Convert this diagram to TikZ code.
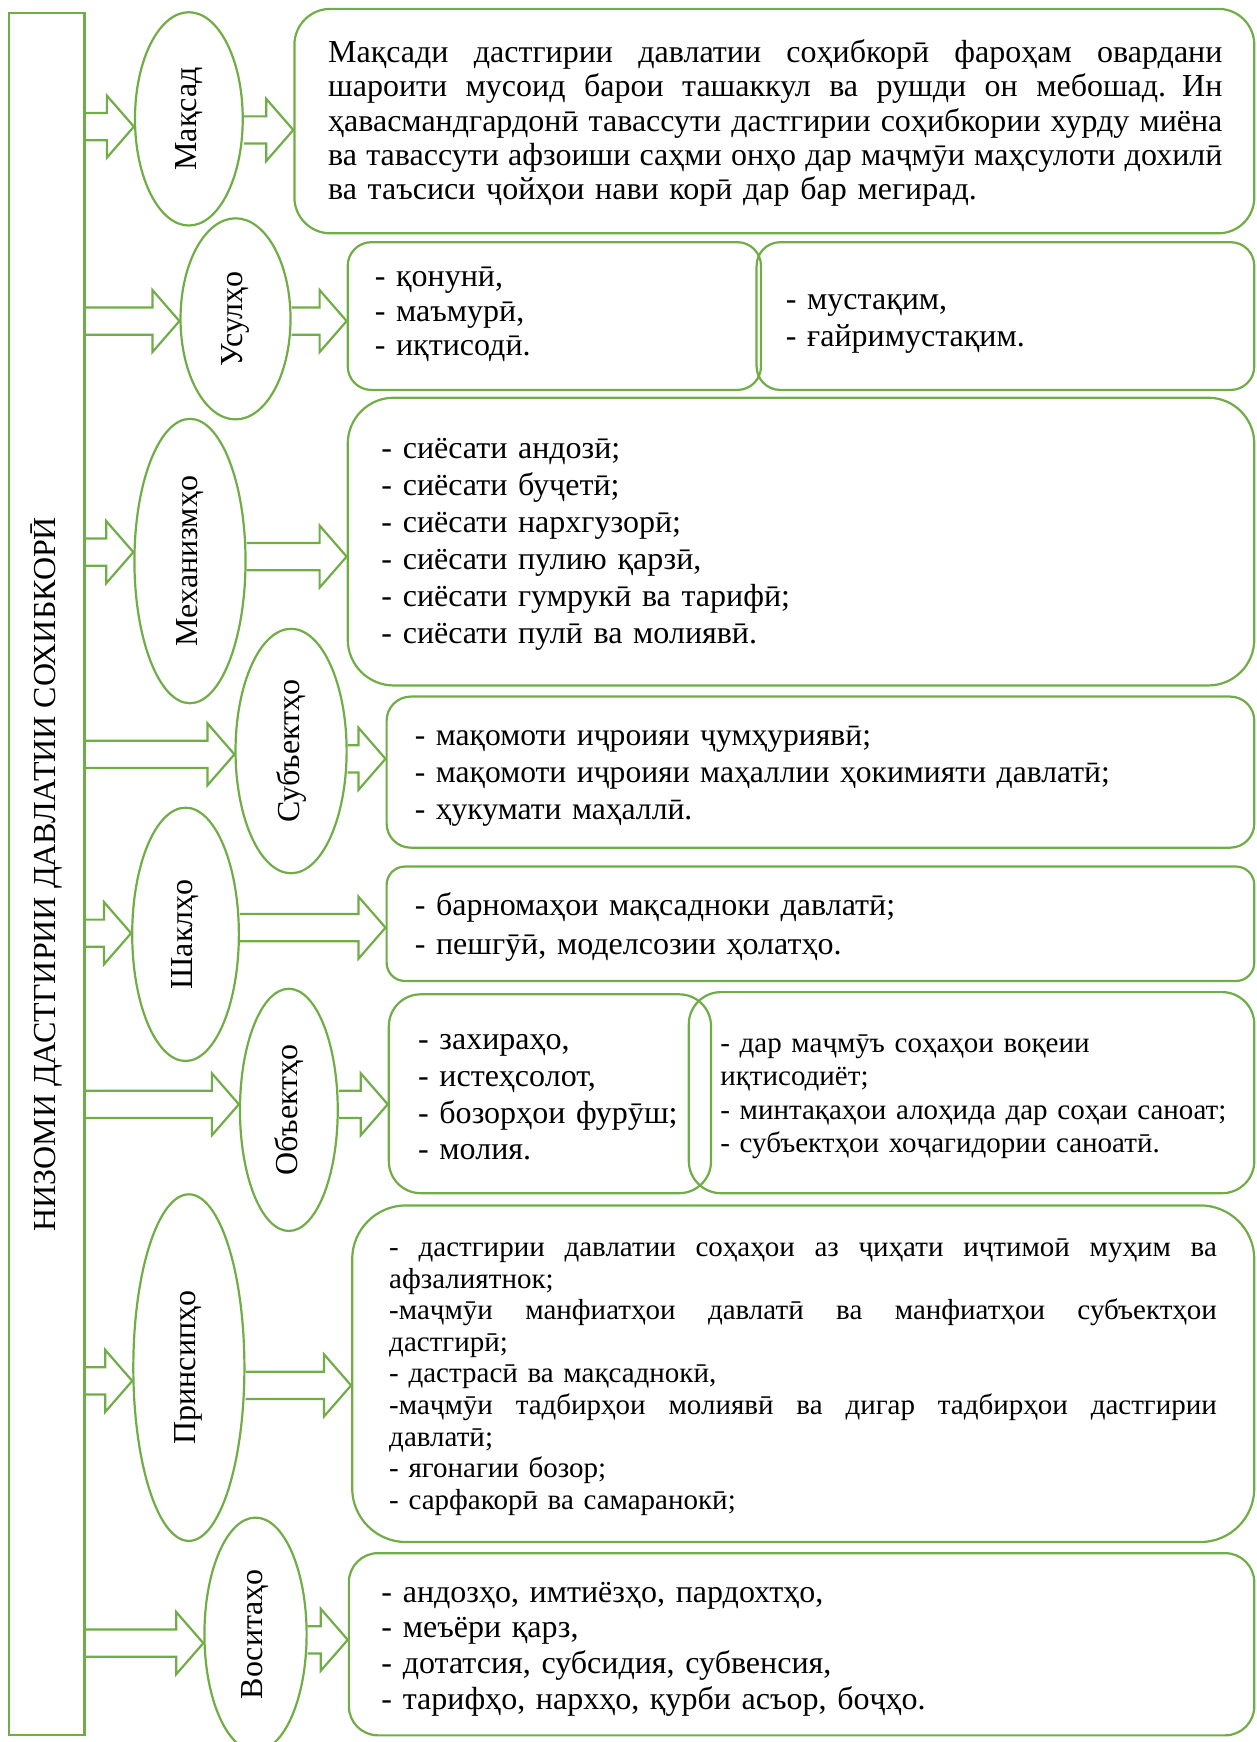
\documentclass[tikz,border=0pt]{standalone}
\usepackage{fontspec}
\setmainfont{Liberation Serif}
\usetikzlibrary{calc,shapes.geometric,positioning}
\definecolor{leaf}{RGB}{112,173,71}
\tikzset{
  greenline/.style={draw=leaf, line width=1.1pt},
  oval/.style={greenline, ellipse, inner sep=0pt},
  panelbox/.style={greenline, rectangle, inner sep=0pt},
  fat/.style={greenline, line join=miter},
  txt/.style={anchor=base west, inner sep=0pt, align=left, text width=#1},
  txt/.default=300pt
}
\def\px{0.5553pt}
% rounded box given by its corners (picture units)
\newcommand{\panel}[5]{%
  \pgfmathsetmacro{\panelw}{(#4-#2)*0.5553}%
  \pgfmathsetmacro{\panelh}{(#5-#3)*0.5553}%
  \pgfmathsetmacro{\panelr}{0.16*min(\panelw,\panelh)}%
  \node[panelbox, minimum width=\panelw pt, minimum height=\panelh pt,
        rounded corners=\panelr pt] (#1) at ({(#2+#4)/2},{(#3+#5)/2}) {};%
}
% outlined block arrow, tip at #2
\def\arrshaft{6.8pt}
\def\arrhead{15.5pt}
\def\arrlen{13.5pt}
\newcommand{\fatarrow}[2]{%
  \draw[fat] let \p1=#1, \p2=#2 in
    (\x1,\y2+\arrshaft) -- (\x2-\arrlen,\y2+\arrshaft) -- (\x2-\arrlen,\y2+\arrhead)
    -- (\x2,\y2) -- (\x2-\arrlen,\y2-\arrhead) -- (\x2-\arrlen,\y2-\arrshaft) -- (\x1,\y2-\arrshaft);
}
% one justified line
\newcommand{\jline}[1]{\leavevmode\hbox to \hsize{\spaceskip=0.25em plus 2em minus 0.05em #1}}

\begin{document}
\begin{tikzpicture}[x=\px, y=-\px]
  \useasboundingbox (0,0) rectangle (1131,1568);
  % left bar
  \node[greenline, rectangle, inner sep=0pt, minimum width=68*\px, minimum height=1550*\px] (bar) at (42,787) {};
  \node[rotate=90, font=\fontsize{16}{16}\selectfont] (title) at (bar.center) {НИЗОМИ ДАСТГИРИИ ДАВЛАТИИ СОХИБКОРӢ};
  %
  \foreach \n/\ex/\ey/\rx/\ry/\lbl in {mak/170/107/48.5/96/Мақсад, usul/212/287/49.5/90.5/Усулҳо,
      mekh/171/505/50/128/Механизмҳо, subj/262/676/50/110/Субъектҳо, shakl/167/841/48/114/Шаклҳо,
      obj/260/999/44/109/Объектҳо, prin/170/1231/50/156/Принсипҳо, vos/230/1471/46/105/Воситаҳо} {%
    \node[oval, minimum width=2*\rx*\px, minimum height=2*\ry*\px] (\n) at (\ex,\ey) {};
    \node[rotate=90, font=\fontsize{16}{16}\selectfont] (\n-lbl) at (\n.center) {\lbl};
  }
  %
  \panel{b1}{265}{8}{1129}{210}
  \panel{b2a}{313}{218}{685}{351}
  \panel{b2b}{681}{218}{1129}{351}
  \panel{b3}{313}{358}{1129}{617}
  \panel{b4}{348}{627}{1129}{763}
  \panel{b5}{348}{780}{1129}{883}
  \panel{b6a}{350}{895}{640}{1074}
  \panel{b6b}{620}{893}{1129}{1074}
  \panel{b7}{317}{1085}{1129}{1388}
  \panel{b8}{314}{1398}{1129}{1562}
  %
  % arrows: bar -> oval -> box (small vertical shifts of the tips)
  \foreach \e/\b/\dl/\dr in {mak/b1/7/10, usul/b2a/2/2, mekh/b3/-8/-4, subj/b4/3/7,
      shakl/b5/-1/-6, obj/b6a/-5/-5, prin/b7/12/16, vos/b8/8/5} {%
    \fatarrow{(bar.east)}{($(\e.west)+(0,\dl)$)}
    \fatarrow{($(\e.east)+(0,\dr)$)}{($(\b.west |- \e.east)+(0,\dr)$)}
  }
  %
  \node[txt=447pt, font=\fontsize{16}{17.2}\selectfont] (t1) at (295,56) {%
    \jline{Мақсади дастгирии давлатии соҳибкорӣ фароҳам овардани}\\
    \jline{шароити мусоид барои ташаккул ва рушди он мебошад. Ин}\\
    \jline{ҳавасмандгардонӣ тавассути дастгирии соҳибкории хурду миёна}\\
    \jline{ва тавассути афзоиши саҳми онҳо дар маҷмӯи маҳсулоти дохилӣ}\\
    ва таъсиси ҷойҳои нави корӣ дар бар мегирад.};
  \node[txt=190pt, font=\fontsize{16}{17.2}\selectfont] (t2a) at (337,258)
    {- қонунӣ,\\- маъмурӣ,\\- иқтисодӣ.};
  \node[txt=230pt, font=\fontsize{16}{18.3}\selectfont] (t2b) at (707,279)
    {- мустақим,\\- ғайримустақим.};
  \node[txt=400pt, font=\fontsize{16}{18.5}\selectfont] (t3) at (343,413)
    {- сиёсати андозӣ;\\- сиёсати буҷетӣ;\\- сиёсати нархгузорӣ;\\- сиёсати пулию қарзӣ,\\- сиёсати гумрукӣ ва тарифӣ;\\- сиёсати пулӣ ва молиявӣ.};
  \node[txt=400pt, font=\fontsize{15.8}{18.6}\selectfont] (t4) at (373,671)
    {- мақомоти иҷроияи ҷумҳуриявӣ;\\- мақомоти иҷроияи маҳаллии ҳокимияти давлатӣ;\\- ҳукумати маҳаллӣ.};
  \node[txt=400pt, font=\fontsize{16}{19.4}\selectfont] (t5) at (373,824)
    {- барномаҳои мақсадноки давлатӣ;\\- пешгӯӣ, моделсозии ҳолатҳо.};
  \node[txt=150pt, font=\fontsize{16}{18.3}\selectfont] (t6a) at (376,945)
    {- захираҳо,\\- истеҳсолот,\\- бозорҳои фурӯш;\\- молия.};
  \node[txt=260pt, font=\fontsize{14.5}{16.8}\selectfont] (t6b) at (648,947)
    {- дар маҷмӯъ соҳаҳои воқеии\\иқтисодиёт;\\- минтақаҳои алоҳида дар соҳаи саноат;\\- субъектҳои хоҷагидории саноатӣ.};
  \node[txt=413.7pt, font=\fontsize{14.5}{15.8}\selectfont] (t7) at (350,1131) {%
    \jline{- дастгирии давлатии соҳаҳои аз ҷиҳати иҷтимоӣ муҳим ва}\\
    афзалиятнок;\\
    \jline{-маҷмӯи манфиатҳои давлатӣ ва манфиатҳои субъектҳои}\\
    дастгирӣ;\\
    - дастрасӣ ва мақсаднокӣ,\\
    \jline{-маҷмӯи тадбирҳои молиявӣ ва дигар тадбирҳои дастгирии}\\
    давлатӣ;\\
    - ягонагии бозор;\\
    - сарфакорӣ ва самаранокӣ;};
  \node[txt=400pt, font=\fontsize{16}{17.9}\selectfont] (t8) at (343,1442)
    {- андозҳо, имтиёзҳо, пардохтҳо,\\- меъёри қарз,\\- дотатсия, субсидия, субвенсия,\\- тарифҳо, нархҳо, қурби асъор, боҷҳо.};
\end{tikzpicture}
\end{document}
